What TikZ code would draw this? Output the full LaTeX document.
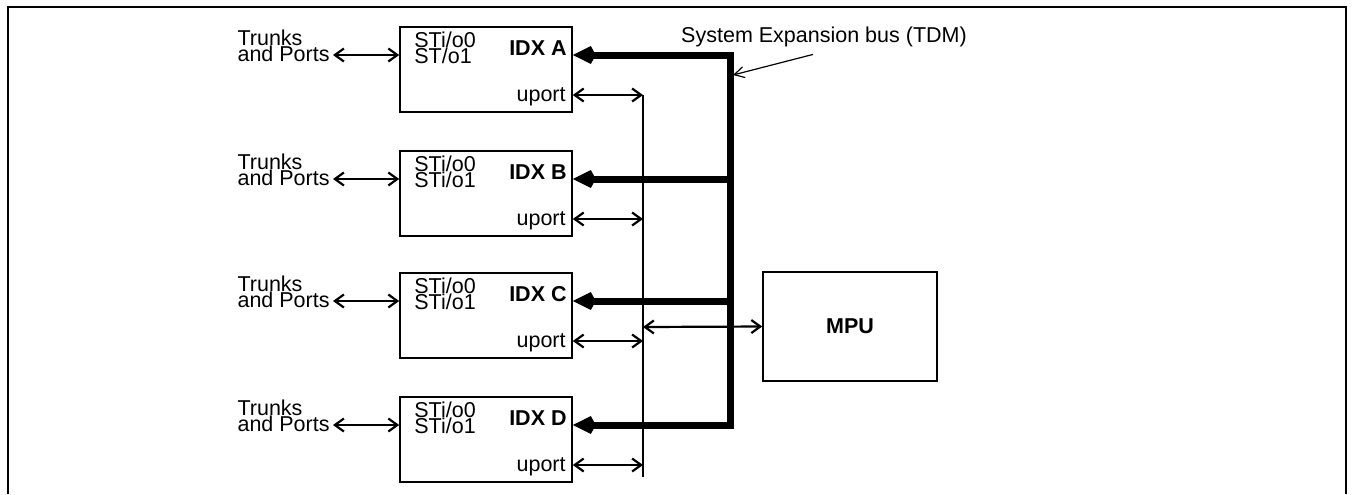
\documentclass[tikz,border=0pt]{standalone}
\usepackage{fontspec}
\setmainfont{Liberation Sans}
\usetikzlibrary{arrows.meta,calc}
\newcommand\diafont{\fontsize{10.75}{8}\selectfont\lineskiplimit=-\maxdimen}

\begin{document}
\begin{tikzpicture}[x=0.5pt,y=-0.5pt,
  every node/.style={font=\diafont,inner sep=0pt},
  idxbox/.style={draw,line width=0.8pt,minimum width=86pt,minimum height=42.5pt},
  sig/.style={line width=1.1pt,{Straight Barb[length=4.5pt,width=6.5pt]}-{Straight Barb[length=4.5pt,width=6.5pt]}},
  bus/.style={line width=3.5pt,line join=miter,-{Kite[length=11.5pt,width=9pt,inset=2.5pt]}},
  callout/.style={line width=0.6pt,-{Straight Barb[length=5pt,width=5.5pt]}}]
\useasboundingbox (0,0) rectangle (1353,494);
% open frame
\draw[line width=1.25pt] (8,494) -- (8,7) -- (1346,7) -- (1346,494);
% switch boxes: name/top edge (px)/second port line
\foreach \n/\t/\s in {A/27/{ST/o1},B/151/{STi/o1},C/273/{STi/o1},D/397/{STi/o1}}{
  \node[idxbox] (\n) at (486,\t+42.5) {};
  \node[anchor=south west,align=left] (\n-st) at (414,\t+37) {STi/o0\\\s};
  \node[anchor=base east,font=\diafont\bfseries] (\n-idx) at (567,\t+28) {IDX \n};
  \node[anchor=base east] (\n-up) at (566,\t+74) {uport};
  \node[anchor=south east,align=left] (\n-trk) at (330,\t+35) {Trunks\\and Ports};
  \coordinate (\n-b) at (730,\t+28);
  \coordinate (\n-u) at (643,\t+68);
  \draw[sig] ($(\n-trk.south east |- \n-b)+(3,0)$) -- (\n.west |- \n-b);
  \draw[sig] (\n.east |- \n-u) -- (\n-u);}
% expansion bus
\draw[bus,{Kite[length=11.5pt,width=9pt,inset=2.5pt]}-{Kite[length=11.5pt,width=9pt,inset=2.5pt]}]
  (A.east |- A-b) -- (A-b) -- (D-b) -- (D.east |- D-b);
\draw[bus] (B-b) -- (B.east |- B-b);
\draw[bus] (C-b) -- (C.east |- C-b);
% uport line and MPU
\draw[line width=1pt] (A-u) -- ($(D-u)+(0,12)$);
\node[draw,line width=0.8pt,minimum width=87pt,minimum height=54.5pt,font=\diafont\bfseries] (MPU) at (850,326.5) {MPU};
\coordinate (mpuTap) at (643,327);
\draw[sig] (mpuTap) -- (MPU.west);
% bus label
\node (sebLbl) at (824,37) {System Expansion bus (TDM)};
\coordinate (busHit) at (733,75);
\draw[callout] ($(sebLbl.south)+(-11,7)$) -- (busHit);
\end{tikzpicture}
\end{document}
